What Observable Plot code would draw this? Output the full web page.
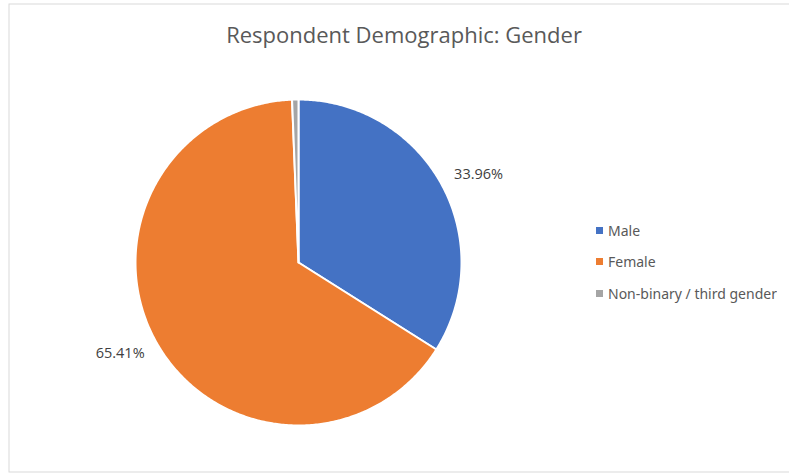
<!DOCTYPE html>
<html><head><meta charset="utf-8">
<script src="https://cdn.jsdelivr.net/npm/d3@7"></script>
<script src="https://cdn.jsdelivr.net/npm/@observablehq/plot@0.6"></script>
<style>
html,body{margin:0;padding:0;background:#fff;}
#wrap{position:relative;width:789px;height:473px;font-family:"Open Sans",sans-serif;}
#legend{position:absolute;left:596px;top:215px;}
.lg-swatch{display:flex;align-items:center;height:30.5px;font-size:14px;color:#595959;margin:0!important;}
.lg-swatch svg{margin-right:5px;}
</style></head>
<body><div id="wrap"></div>
<script>
const title = "Respondent Demographic: Gender";
const categories = ["Male", "Female", "Non-binary / third gender"];
const values = [33.96, 65.41, 0.63];
const colors = ["#4472C4", "#ED7D31", "#A5A5A5"];

const pie = d3.pie().sort(null).value(d => d.value)(categories.map((c, i) => ({cat: c, value: values[i]})));
const rows = [];
pie.forEach(s => {
  rows.push({cat: s.data.cat, x: 0, y: 0});
  const n = Math.max(2, Math.ceil((s.endAngle - s.startAngle) / 0.01));
  for (let k = 0; k <= n; k++) {
    const a = s.startAngle + (s.endAngle - s.startAngle) * k / n;
    rows.push({cat: s.data.cat, x: Math.sin(a), y: Math.cos(a)});
  }
  rows.push({cat: s.data.cat, x: 0, y: 0});
});
const labels = pie.filter(s => s.data.value > 5).map(s => {
  const a = (s.startAngle + s.endAngle) / 2;
  return {x: 1.09 * Math.sin(a), y: 1.09 * Math.cos(a), text: s.data.value.toFixed(2) + "%", anchor: Math.sin(a) >= 0 ? "start" : "end"};
});

const chart = Plot.plot({
  width: 789, height: 473, margin: 0,
  style: {fontFamily: "Open Sans, sans-serif", background: "#fff"},
  x: {domain: [-1, 1], range: [135, 461], axis: null},
  y: {domain: [-1, 1], range: [425, 99], axis: null},
  color: {domain: categories, range: colors},
  marks: [
    Plot.frame({stroke: "#d9d9d9", insetLeft: 8.5, insetTop: 3.5, insetBottom: 1.5, insetRight: -2}),
    Plot.line(rows, {x: "x", y: "y", z: "cat", fill: "cat", stroke: "white", strokeWidth: 2, strokeLinejoin: "round", curve: "linear"}),
    Plot.text(labels.filter(d => d.anchor === "start"), {x: "x", y: "y", text: "text", textAnchor: "start", fill: "#404040", fontSize: 14.5, dy: -2}),
    Plot.text(labels.filter(d => d.anchor === "end"), {x: "x", y: "y", text: "text", textAnchor: "end", fill: "#404040", fontSize: 14.5, dy: 2}),
    Plot.text([title], {frameAnchor: "top", dx: 9, dy: 27, fontSize: 22, fill: "#595959"})
  ]
});
const wrap = document.getElementById("wrap");
wrap.appendChild(chart);
const leg = chart.legend("color", {className: "lg", columns: 1, swatchSize: 7});
leg.id = "legend";
wrap.appendChild(leg);
</script></body></html>
